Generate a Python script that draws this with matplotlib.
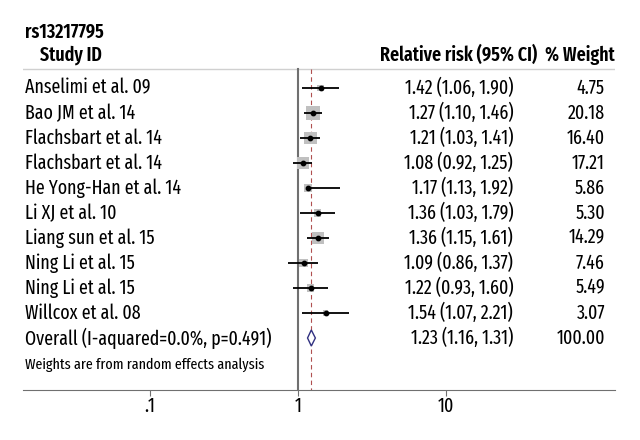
import numpy as np
import matplotlib
matplotlib.use("Agg")
import matplotlib.pyplot as plt
from matplotlib.patches import Polygon
from matplotlib.transforms import blended_transform_factory

plt.rcParams['font.family'] = ['Fira Sans Extra Condensed', 'Archivo Narrow', 'DejaVu Sans']
plt.rcParams['font.stretch'] = 'condensed'

studies = ["Anselimi et al. 09", "Bao JM et al. 14", "Flachsbart et al. 14",
           "Flachsbart et al. 14", "He Yong-Han et al. 14", "Li XJ et al. 10",
           "Liang sun et al. 15", "Ning Li et al. 15", "Ning Li et al. 15",
           "Willcox et al. 08"]
rr = [1.42, 1.27, 1.21, 1.08, 1.17, 1.36, 1.36, 1.09, 1.22, 1.54]
lo = [1.06, 1.10, 1.03, 0.92, 1.13, 1.03, 1.15, 0.86, 0.93, 1.07]
hi = [1.90, 1.46, 1.41, 1.25, 1.92, 1.79, 1.61, 1.37, 1.60, 2.21]
weight = [4.75, 20.18, 16.40, 17.21, 5.86, 5.30, 14.29, 7.46, 5.49, 3.07]
overall = (1.23, 1.16, 1.31)
overall_label = "Overall (I-aquared=0.0%, p=0.491)"
xticks = [0.1, 1, 10]
xticklabels = [".1", "1", "10"]

fig = plt.figure(figsize=(6.4, 4.4), dpi=100)
ax = fig.add_axes([23/640, 50/440, 592/640, 390/440])
ax.set_xscale('log')
ax.set_xlim(10**(-275/148), 10**(317/148))
ax.set_ylim(12.08, -3.52)
for s in ['top', 'right', 'left']:
    ax.spines[s].set_visible(False)
ax.spines['bottom'].set_color('#707070')
ax.set_yticks([])
ax.set_xticks(xticks)
ax.set_xticklabels(xticklabels, fontsize=14)
ax.minorticks_off()
ax.tick_params(axis='x', length=4, color='#707070', pad=1)

tr = blended_transform_factory(ax.transAxes, ax.transData)
fs = 14

# header
ax.text(0.004, -2.24, "rs13217795", transform=tr, fontsize=fs, fontweight='semibold', va='center')
ax.text(0.029, -1.32, "Study ID", transform=tr, fontsize=fs, fontweight='semibold', va='center')
ax.text(0.603, -1.32, "Relative risk (95% CI)", transform=tr, fontsize=fs, fontweight='semibold',
        va='center')
ax.text(0.882, -1.32, "% Weight", transform=tr, fontsize=fs, fontweight='semibold', va='center')
ax.axhline(-0.76, color='#d0d0d0', lw=1)

# reference lines
ax.plot([1, 1], [-0.76, 12.08], color='#707070', lw=1.5)
ax.plot([overall[0]] * 2, [-0.76, 12.08], color='#b05050', lw=0.8, ls=(0, (4, 3)))

y = np.arange(len(studies))
ax.scatter(rr, y, s=np.array(weight) * 5, marker='s', color='#c0c0c0', zorder=2, lw=0)
ax.hlines(y, lo, hi, color='black', lw=1.3, zorder=3)
ax.scatter(rr, y, s=10, color='black', zorder=4)

for i in range(len(studies)):
    ax.text(0.004, y[i], studies[i], transform=tr, fontsize=fs, va='center')
    ax.text(0.828, y[i], f"{rr[i]:.2f} ({lo[i]:.2f}, {hi[i]:.2f})", transform=tr,
            fontsize=fs, va='center', ha='right')
    ax.text(0.983, y[i], f"{weight[i]:.2f}", transform=tr, fontsize=fs, va='center', ha='right')

yo = len(studies)
est, l, h = overall
ax.add_patch(Polygon([[l, yo], [est, yo - 0.32], [h, yo], [est, yo + 0.32]],
                     closed=True, facecolor='white', edgecolor='#303080', lw=1, zorder=3))
ax.text(0.004, yo, overall_label, transform=tr, fontsize=fs, va='center')
ax.text(0.828, yo, f"{est:.2f} ({l:.2f}, {h:.2f})", transform=tr, fontsize=fs,
        va='center', ha='right')
ax.text(0.983, yo, "100.00", transform=tr, fontsize=fs, va='center', ha='right')
ax.text(0.004, yo + 1.08, "Weights are from random effects analysis", transform=tr,
        fontsize=11, va='center')

fig.savefig("out.png", dpi=100)
